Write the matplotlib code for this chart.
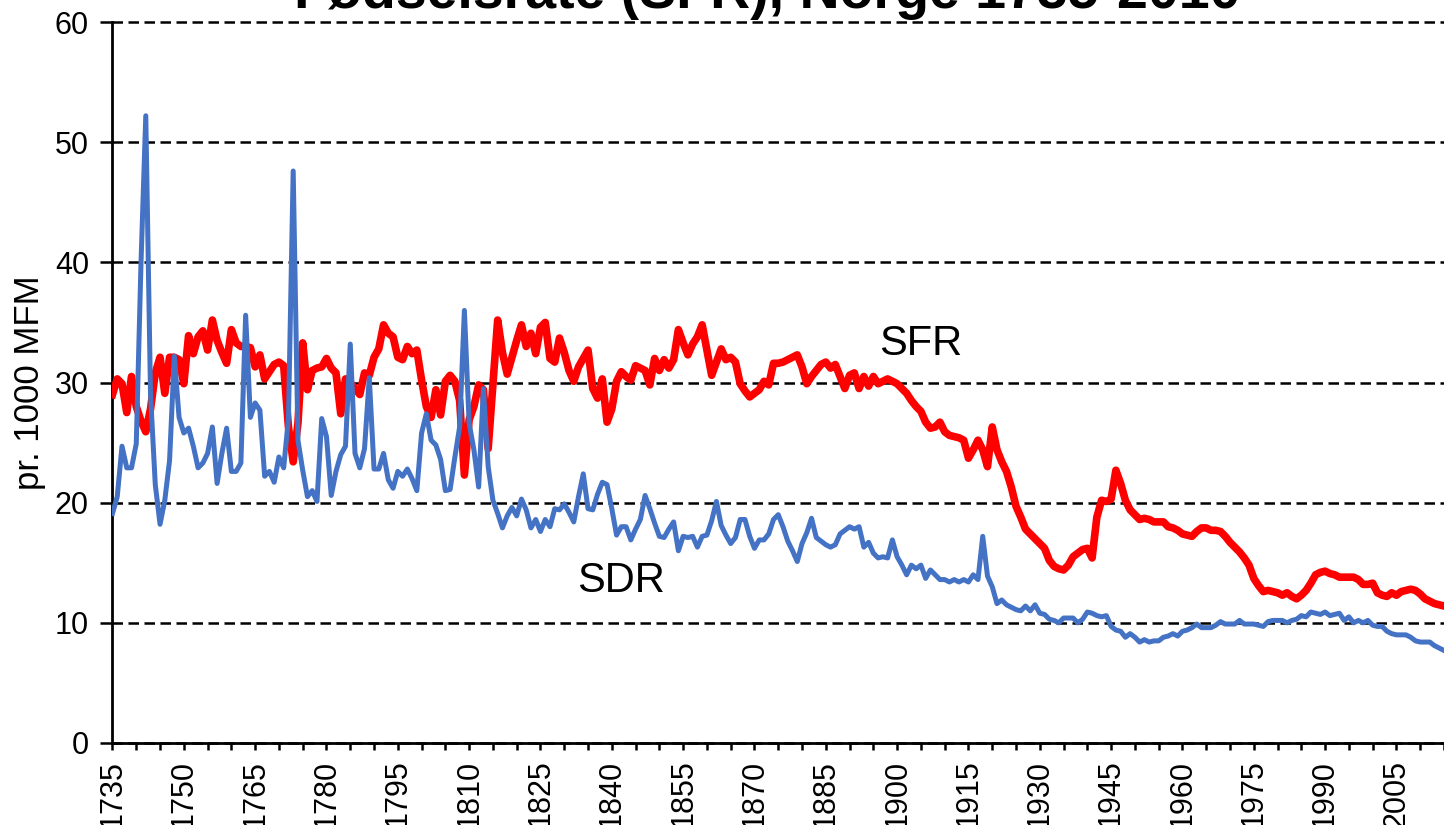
import matplotlib
matplotlib.use('Agg')
import matplotlib.pyplot as plt
from matplotlib.ticker import MultipleLocator

plt.rcParams['font.family'] = ['Liberation Sans', 'DejaVu Sans']

# annual values, Norway, per 1000 population
years = list(range(1735, 2016))

sfr = [
    29.0, 30.3, 29.9, 27.5, 30.5, 28.0, 26.8, 25.9, 27.8, 30.8,  # 1735
    32.1, 29.1, 32.1, 32.1, 31.9, 29.9, 33.9, 32.4, 33.8, 34.3,  # 1745
    32.7, 35.2, 33.5, 32.5, 31.6, 34.4, 33.3, 33.0, 33.0, 32.9,  # 1755
    31.3, 32.3, 30.3, 30.9, 31.5, 31.7, 31.4, 26.3, 23.4, 26.6,  # 1765
    33.3, 29.4, 31.0, 31.2, 31.3, 32.0, 31.2, 30.8, 27.4, 30.3,  # 1775
    30.0, 29.5, 29.0, 30.8, 30.6, 32.1, 32.8, 34.8, 34.1, 33.8,  # 1785
    32.1, 31.9, 33.0, 32.4, 32.7, 30.2, 28.0, 27.1, 29.4, 27.3,  # 1795
    30.1, 30.6, 30.1, 28.5, 22.3, 26.9, 28.0, 29.8, 29.4, 24.5,  # 1805
    29.9, 35.2, 32.5, 30.7, 32.1, 33.5, 34.8, 33.0, 34.1, 32.4,  # 1815
    34.6, 35.0, 32.0, 31.7, 33.7, 32.5, 31.0, 30.1, 31.3, 32.0,  # 1825
    32.7, 29.5, 28.7, 30.3, 26.7, 27.8, 30.1, 30.9, 30.5, 30.2,  # 1835
    31.4, 31.2, 31.0, 29.8, 32.0, 31.0, 31.9, 31.2, 31.9, 34.4,  # 1845
    33.3, 32.3, 33.2, 33.8, 34.8, 32.7, 30.6, 31.7, 32.8, 31.9,  # 1855
    32.1, 31.7, 29.9, 29.3, 28.8, 29.1, 29.4, 30.1, 29.8, 31.6,  # 1865
    31.6, 31.7, 31.9, 32.1, 32.3, 31.3, 29.9, 30.5, 31.0, 31.5,  # 1875
    31.7, 31.2, 31.5, 30.5, 29.5, 30.6, 30.8, 29.5, 30.5, 29.7,  # 1885
    30.5, 29.9, 30.1, 30.3, 30.1, 29.9, 29.5, 29.1, 28.5, 28.0,  # 1895
    27.6, 26.7, 26.2, 26.3, 26.7, 25.9, 25.6, 25.5, 25.4, 25.2,  # 1905
    23.7, 24.4, 25.2, 24.4, 23.0, 26.3, 24.4, 23.4, 22.6, 21.3,  # 1915
    19.7, 18.8, 17.8, 17.4, 17.0, 16.6, 16.2, 15.2, 14.7, 14.5,  # 1925
    14.4, 14.8, 15.5, 15.8, 16.1, 16.2, 15.4, 18.8, 20.2, 20.1,  # 1935
    20.3, 22.7, 21.6, 20.2, 19.4, 19.0, 18.6, 18.7, 18.6, 18.4,  # 1945
    18.4, 18.4, 18.0, 17.9, 17.7, 17.4, 17.3, 17.2, 17.6, 17.9,  # 1955
    17.9, 17.7, 17.7, 17.6, 17.2, 16.7, 16.3, 15.9, 15.4, 14.8,  # 1965
    13.7, 13.1, 12.6, 12.7, 12.6, 12.5, 12.3, 12.5, 12.2, 12.0,  # 1975
    12.3, 12.7, 13.3, 14.0, 14.2, 14.3, 14.1, 14.0, 13.8, 13.8,  # 1985
    13.8, 13.8, 13.6, 13.2, 13.2, 13.3, 12.5, 12.3, 12.2, 12.5,  # 1995
    12.3, 12.6, 12.7, 12.8, 12.7, 12.4, 12.0, 11.8, 11.6, 11.5,  # 2005
    11.4,                                                        # 2015
]

sdr = [
    19.1, 20.5, 24.7, 22.9, 22.9, 24.9, 40.0, 52.2, 29.0, 21.5,  # 1735
    18.2, 20.2, 23.5, 32.2, 27.1, 25.8, 26.2, 24.7, 22.9, 23.3,  # 1745
    24.1, 26.3, 21.6, 24.1, 26.2, 22.6, 22.6, 23.3, 35.6, 27.1,  # 1755
    28.3, 27.7, 22.2, 22.6, 21.7, 23.8, 22.9, 27.0, 47.6, 25.2,  # 1765
    22.7, 20.5, 21.0, 20.1, 27.0, 25.5, 20.6, 22.6, 24.0, 24.7,  # 1775
    33.2, 24.1, 22.9, 24.5, 30.4, 22.8, 22.8, 24.1, 21.9, 21.2,  # 1785
    22.6, 22.2, 22.8, 22.0, 21.0, 25.8, 27.4, 25.2, 24.8, 23.6,  # 1795
    21.0, 21.1, 23.8, 26.3, 36.0, 26.6, 24.4, 21.3, 29.5, 23.0,  # 1805
    20.2, 19.1, 17.9, 18.9, 19.6, 18.9, 20.3, 19.4, 17.9, 18.6,  # 1815
    17.6, 18.6, 18.0, 19.5, 19.4, 19.9, 19.2, 18.4, 20.5, 22.4,  # 1825
    19.5, 19.4, 20.7, 21.7, 21.5, 19.5, 17.3, 18.0, 18.0, 16.9,  # 1835
    17.8, 18.6, 20.6, 19.5, 18.3, 17.2, 17.1, 17.8, 18.4, 16.0,  # 1845
    17.2, 17.1, 17.2, 16.3, 17.2, 17.3, 18.5, 20.1, 18.1, 17.3,  # 1855
    16.6, 17.1, 18.6, 18.6, 17.2, 16.2, 16.9, 16.9, 17.4, 18.6,  # 1865
    19.0, 18.0, 16.8, 16.0, 15.1, 16.6, 17.5, 18.7, 17.1, 16.8,  # 1875
    16.5, 16.3, 16.5, 17.4, 17.7, 18.0, 17.8, 18.0, 16.3, 16.7,  # 1885
    15.8, 15.4, 15.5, 15.4, 16.9, 15.5, 14.8, 14.0, 14.8, 14.5,  # 1895
    14.8, 13.7, 14.4, 14.0, 13.6, 13.6, 13.4, 13.6, 13.4, 13.6,  # 1905
    13.4, 14.0, 13.6, 17.2, 13.9, 13.0, 11.6, 11.9, 11.5, 11.3,  # 1915
    11.1, 11.0, 11.4, 11.0, 11.5, 10.8, 10.7, 10.3, 10.2, 10.0,  # 1925
    10.4, 10.4, 10.4, 10.0, 10.3, 10.9, 10.8, 10.6, 10.5, 10.6,  # 1935
    9.7, 9.4, 9.3, 8.8, 9.1, 8.8, 8.4, 8.6, 8.4, 8.5,            # 1945
    8.5, 8.8, 8.9, 9.1, 8.9, 9.3, 9.4, 9.6, 9.9, 9.6,            # 1955
    9.6, 9.6, 9.8, 10.1, 9.9, 9.9, 9.9, 10.2, 9.9, 9.9,          # 1965
    9.9, 9.8, 9.7, 10.1, 10.2, 10.2, 10.2, 10.0, 10.2, 10.3,     # 1975
    10.6, 10.5, 10.9, 10.8, 10.7, 10.9, 10.6, 10.7, 10.8, 10.2,  # 1985
    10.5, 10.0, 10.2, 10.0, 10.2, 9.8, 9.7, 9.7, 9.3, 9.1,       # 1995
    9.0, 9.0, 9.0, 8.8, 8.5, 8.4, 8.4, 8.4, 8.1, 7.9,            # 2005
    7.7,                                                         # 2015
]

label_years = list(range(1735, 2006, 15))

fig = plt.figure(figsize=(14.44, 8.25), dpi=100)
ax = fig.add_axes([0.0779, 0.0994, 0.9221, 0.8739])

ax.plot(years, sfr, color='#ff0000', lw=5.5, solid_joinstyle='round', zorder=3)
ax.plot(years, sdr, color='#4472c4', lw=3.6, solid_joinstyle='round', zorder=4)

ax.set_xlim(1735, 2015)
ax.set_ylim(0, 60)
ax.set_yticks(range(0, 61, 10))
ax.set_xticks(label_years)
ax.set_xticklabels([str(y) for y in label_years], rotation=90)
ax.xaxis.set_minor_locator(MultipleLocator(5))

ax.tick_params(axis='y', direction='out', length=9, width=1.8, pad=8, labelsize=22)
ax.tick_params(axis='x', which='both', direction='out', length=5, width=1.8, pad=7, labelsize=22)

ax.yaxis.grid(True, color='black', linestyle=(0, (4.2, 2.2)), linewidth=1.8)
for gl in ax.get_ygridlines():
    gl.set_clip_on(False)
ax.set_axisbelow(True)

for s in ['top', 'right']:
    ax.spines[s].set_visible(False)
for s in ['left', 'bottom']:
    ax.spines[s].set_linewidth(2)

ax.set_ylabel('pr. 1000 MFM', fontsize=25, labelpad=6)

ax.text(1905, 32.3, 'SFR', fontsize=30, ha='center', va='baseline')
ax.text(1842, 12.6, 'SDR', fontsize=30, ha='center', va='baseline')

# title sits mostly above the canvas, as in the source image
fig.text(0.531, 0.9903, 'Fødselsrate (SFR), Norge 1735-2010', fontsize=40,
         fontweight='bold', ha='center', va='baseline')

fig.savefig('out.png', dpi=100)
